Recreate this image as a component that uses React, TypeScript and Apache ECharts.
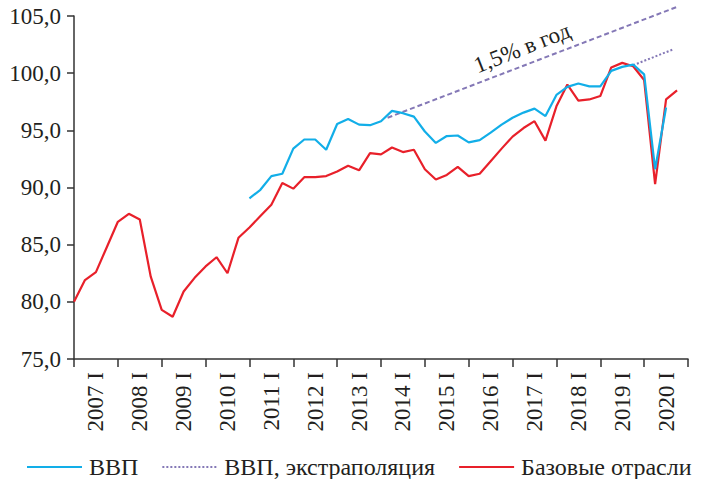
import React, { useEffect, useRef } from "react";
import * as echarts from "echarts";

const yearLabels = [
  "2007 I", "2008 I", "2009 I", "2010 I", "2011 I", "2012 I", "2013 I",
  "2014 I", "2015 I", "2016 I", "2017 I", "2018 I", "2019 I", "2020 I",
];

// quarterly values, index 0 = 2007 Q1
const baseIndustries = [
  80.0, 81.9, 82.6, 84.8, 87.0, 87.7, 87.2, 82.2, 79.3, 78.7,
  80.9, 82.1, 83.1, 83.9, 82.5, 85.6, 86.5, 87.5, 88.5, 90.4,
  89.9, 90.9, 90.9, 91.0, 91.4, 91.9, 91.5, 93.0, 92.9, 93.5,
  93.1, 93.3, 91.6, 90.7, 91.1, 91.8, 91.0, 91.2, 92.3, 93.4,
  94.45, 95.2, 95.8, 94.1, 97.1, 99.0, 97.6, 97.7, 98.0, 100.5,
  100.9, 100.6, 99.4, 90.3, 97.7, 98.5,
];

const gdpStart = 16; // 2011 Q1
const gdp = [
  89.05, 89.8, 91.0, 91.2, 93.4, 94.2, 94.2, 93.3, 95.55, 96.0,
  95.5, 95.45, 95.8, 96.7, 96.5, 96.2, 94.9, 93.9, 94.5, 94.55,
  93.95, 94.15, 94.8, 95.5, 96.1, 96.55, 96.9, 96.25, 98.1, 98.8,
  99.1, 98.85, 98.85, 100.2, 100.55, 100.75, 99.9, 91.6, 97.0,
];

// extrapolation lines: [quarter index, value]
const extrapUpper = [
  [28.6, 96.1],
  [55.0, 105.8],
];
const extrapLower = [
  [51.0, 100.7],
  [54.7, 102.1],
];

const yTicks = { min: 75, max: 105, interval: 5 };
const annotation = "1,5% в год";

const FONT = "Liberation Serif";
const BLUE = "#12aee8";
const RED = "#e8202a";
const PURPLE = "#8478b6";
const TEXT = "#231f20";

export default function App() {
  const ref = useRef<HTMLDivElement>(null);

  useEffect(() => {
    if (!ref.current) return;
    const chart = echarts.init(ref.current, null, { renderer: "svg" });

    const redData = baseIndustries.map((v, i) => [i, v]);
    const blueData = gdp.map((v, i) => [gdpStart + i, v]);

    chart.setOption({
      animation: false,
      backgroundColor: "#ffffff",
      grid: {
        left: 74,
        right: 19,
        top: 16,
        bottom: 120,
        containLabel: false,
        outerBoundsMode: "none",
      },
      legend: {
        left: 21,
        top: 450,
        itemWidth: 55,
        itemHeight: 14,
        itemGap: 23,
        data: ["ВВП", "ВВП, экстраполяция", "Базовые отрасли"],
        itemStyle: { opacity: 0 },
        textStyle: {
          fontFamily: FONT,
          fontSize: 24,
          color: TEXT,
          padding: [0, 0, 0, 2],
        },
      },
      xAxis: [
        {
          type: "category",
          data: yearLabels,
          boundaryGap: true,
          axisLine: { show: true, lineStyle: { color: "#333", width: 1.5 } },
          axisTick: {
            show: true,
            length: 8,
            inside: false,
            lineStyle: { color: "#333", width: 1.5 },
          },
          axisLabel: {
            rotate: 90,
            margin: 13,
            fontFamily: FONT,
            fontSize: 23,
            color: TEXT,
            interval: 0,
          },
          splitLine: { show: false },
        },
        {
          type: "value",
          min: 0,
          max: 56,
          show: false,
          splitLine: { show: false },
        },
      ],
      yAxis: {
        type: "value",
        min: yTicks.min,
        max: yTicks.max,
        interval: yTicks.interval,
        axisLine: { show: true, lineStyle: { color: "#333", width: 1.5 } },
        axisTick: {
          show: true,
          length: 7,
          lineStyle: { color: "#333", width: 1.5 },
        },
        axisLabel: {
          margin: 13,
          fontFamily: FONT,
          fontSize: 23,
          color: TEXT,
          formatter: (v: number) => v.toFixed(1).replace(".", ","),
        },
        splitLine: { show: false },
      },
      series: [
        {
          name: "ВВП, экстраполяция",
          type: "line",
          xAxisIndex: 1,
          data: extrapLower,
          symbol: "none",
          clip: false,
          lineStyle: { color: PURPLE, width: 2, type: [2, 2] },
          itemStyle: { color: PURPLE },
          z: 1,
        },
        {
          name: "ВВП, экстраполяция",
          type: "line",
          xAxisIndex: 1,
          data: extrapUpper,
          symbol: "none",
          clip: false,
          lineStyle: { color: PURPLE, width: 2, type: [5, 3] },
          itemStyle: { color: PURPLE },
          z: 1,
        },
        {
          name: "Базовые отрасли",
          type: "line",
          xAxisIndex: 1,
          data: redData,
          symbol: "none",
          lineStyle: { color: RED, width: 2.2 },
          itemStyle: { color: RED },
          z: 2,
        },
        {
          name: "ВВП",
          type: "line",
          xAxisIndex: 1,
          data: blueData,
          symbol: "none",
          lineStyle: { color: BLUE, width: 2.2 },
          itemStyle: { color: BLUE },
          z: 3,
        },
      ],
      graphic: [
        {
          type: "text",
          x: 522,
          y: 48,
          rotation: 0.375,
          style: {
            text: annotation,
            fontFamily: FONT,
            fontSize: 23,
            fill: TEXT,
            align: "center",
            verticalAlign: "middle",
          },
        },
      ],
    });

    return () => chart.dispose();
  }, []);

  return (
    <div
      ref={ref}
      style={{ position: "fixed", left: 0, top: 0, width: 707, height: 479 }}
    />
  );
}
